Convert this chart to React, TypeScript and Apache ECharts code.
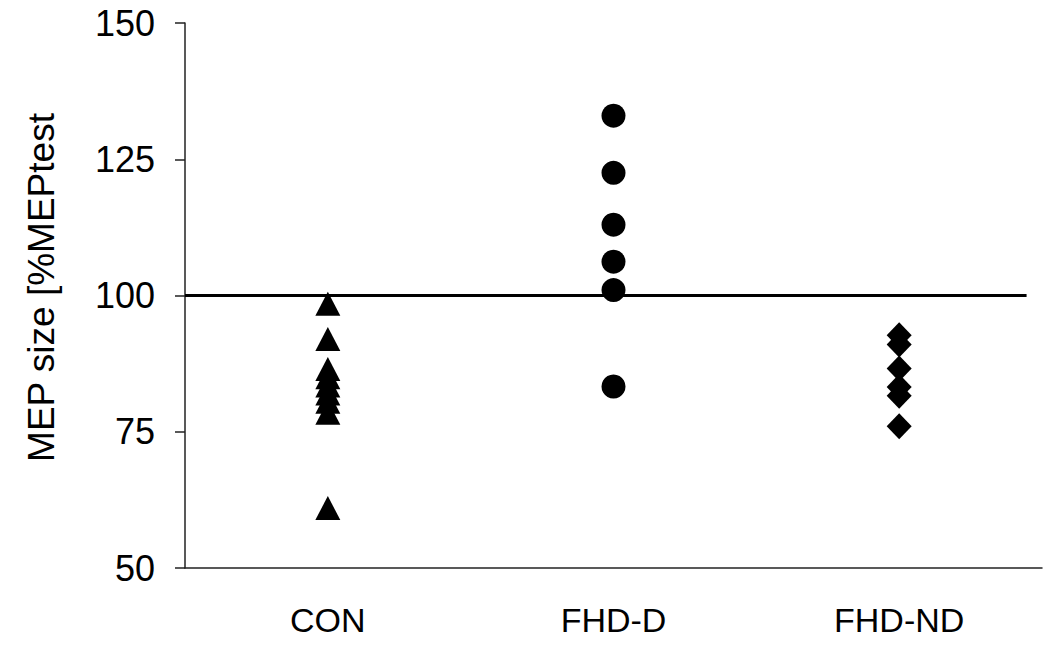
import React, { useEffect, useRef } from "react";
import * as echarts from "echarts";

const categories = ["CON", "FHD-D", "FHD-ND"];
const conValues = [98.5, 92, 86.5, 85, 83.5, 82, 80.5, 78.5, 61];
const fhdDValues = [133, 122.5, 113, 106.2, 101, 83.3];
const fhdNdValues = [92.7, 91, 86.6, 83.2, 81.6, 76];
const referenceLine = [[0, 100], [0.982, 100]];
const yTicks = { min: 50, max: 150, interval: 25 };
const yAxisTitle = "MEP size [%MEPtest";

export default function App() {
  const ref = useRef<HTMLDivElement>(null);
  useEffect(() => {
    if (!ref.current) return;
    const chart = echarts.init(ref.current, undefined, { renderer: "svg" });
    const font = "Liberation Sans, Arial, sans-serif";
    const mk = (cat: string, vals: number[]) => vals.map((v) => [cat, v]);
    chart.setOption({
      animation: false,
      backgroundColor: "#ffffff",
      grid: { left: 185, right: 8, top: 23, bottom: 83 },
      xAxis: [
        {
          type: "category",
          data: categories,
          boundaryGap: true,
          axisLine: { lineStyle: { color: "#222", width: 1.5 } },
          axisTick: { show: false },
          axisLabel: { color: "#000", fontSize: 34, fontFamily: font, margin: 35 },
        },
        { type: "value", min: 0, max: 1, show: false },
      ],
      yAxis: {
        type: "value",
        min: yTicks.min,
        max: yTicks.max,
        interval: yTicks.interval,
        name: yAxisTitle,
        nameLocation: "middle",
        nameRotate: 90,
        nameGap: 125,
        nameTextStyle: { color: "#000", fontSize: 37, fontFamily: font, padding: [0, 0, 0, 16] },
        axisLine: { show: true, lineStyle: { color: "#222", width: 1.5 } },
        axisTick: { show: true, inside: false, length: 10, lineStyle: { color: "#222", width: 1.5 } },
        splitLine: { show: false },
        axisLabel: { color: "#000", fontSize: 36, fontFamily: font, margin: 30 },
      },
      series: [
        {
          type: "line",
          xAxisIndex: 1,
          data: referenceLine,
          symbol: "none",
          lineStyle: { color: "#000", width: 3 },
          z: 1,
        },
        {
          type: "scatter",
          data: mk("CON", conValues),
          symbol: "triangle",
          symbolSize: [25, 24],
          itemStyle: { color: "#000", opacity: 1 },
          z: 3,
        },
        {
          type: "scatter",
          data: mk("FHD-D", fhdDValues),
          symbol: "circle",
          symbolSize: 24,
          itemStyle: { color: "#000", opacity: 1 },
          z: 3,
        },
        {
          type: "scatter",
          data: mk("FHD-ND", fhdNdValues),
          symbol: "diamond",
          symbolSize: [25, 26],
          itemStyle: { color: "#000", opacity: 1 },
          z: 3,
        },
      ],
    });
    return () => chart.dispose();
  }, []);
  return (
    <div
      ref={ref}
      style={{ position: "fixed", left: 0, top: 0, width: 1050, height: 651, background: "#fff" }}
    />
  );
}
